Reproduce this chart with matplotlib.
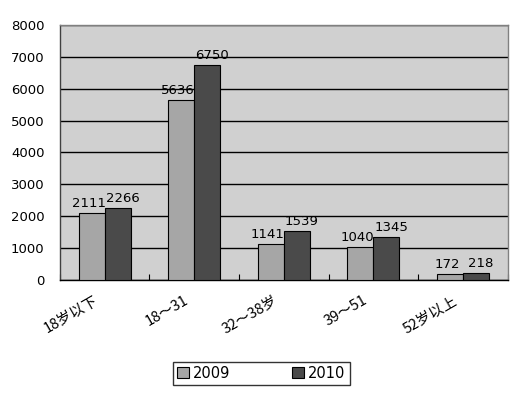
import matplotlib
matplotlib.use("Agg")
import matplotlib.pyplot as plt
import numpy as np
from matplotlib.transforms import offset_copy

plt.rcParams['font.family'] = ['Noto Sans CJK SC', 'DejaVu Sans']

categories = ["18岁以下", "18～31", "32～38岁", "39～51", "52岁以上"]
series_names = ["2009", "2010"]
values_2009 = [2111, 5636, 1141, 1040, 172]
values_2010 = [2266, 6750, 1539, 1345, 218]
yticks = [0, 1000, 2000, 3000, 4000, 5000, 6000, 7000, 8000]

fig = plt.figure(figsize=(5.30, 3.96), dpi=100)
ax = fig.add_axes([0.113, 0.293, 0.845, 0.644])
ax.set_facecolor("#d0d0d0")

x = np.arange(len(categories))
w = 0.29
b1 = ax.bar(x - w/2, values_2009, w, color="#a6a6a6", edgecolor="black", linewidth=0.8, label=series_names[0], zorder=3)
b2 = ax.bar(x + w/2, values_2010, w, color="#4a4a4a", edgecolor="black", linewidth=0.8, label=series_names[1], zorder=3)

for rects, vals, dx in ((b1, values_2009, -3), (b2, values_2010, 5)):
    tr = offset_copy(ax.transData, fig=fig, x=dx, y=3, units="dots")
    for r, v in zip(rects, vals):
        ax.text(r.get_x() + r.get_width()/2, v, str(v), ha="center", va="bottom",
                fontsize=9.5, family="DejaVu Sans", zorder=4, transform=tr)

ax.set_ylim(0, 8000)
ax.set_xlim(-0.5, len(categories) - 0.5)
ax.set_yticks(yticks)
ax.set_yticklabels([str(t) for t in yticks], fontsize=9.5, family="DejaVu Sans")
ax.yaxis.grid(True, color="black", linewidth=1.0, zorder=1)
ax.set_axisbelow(True)
ax.tick_params(axis="y", length=0, pad=11)

ax.set_xticks(np.arange(len(categories) + 1) - 0.5, minor=False)
ax.set_xticklabels([""] * (len(categories) + 1))
ax.tick_params(axis="x", direction="in", length=4, color="black")
for xi, c in zip(x, categories):
    ax.text(xi - 0.12, -420, c, rotation=30, ha="right", va="top", fontsize=10.5,
            rotation_mode="anchor", transform=ax.transData)

for s in ax.spines.values():
    s.set_color("#808080")
    s.set_linewidth(1.0)
ax.spines["bottom"].set_color("black")
ax.spines["left"].set_color("#404040")

leg = fig.legend(handles=[b1, b2], labels=series_names, loc="center",
                 bbox_to_anchor=(0.493, 0.057), ncol=2, frameon=True, fancybox=False,
                 edgecolor="black", handlelength=0.8, handleheight=0.8,
                 columnspacing=4.2, handletextpad=0.3, borderpad=0.3, borderaxespad=0,
                 prop={"family": "DejaVu Sans", "size": 10.5})
leg.get_frame().set_linewidth(1.0)

fig.savefig("out.png", dpi=100, facecolor="white")
